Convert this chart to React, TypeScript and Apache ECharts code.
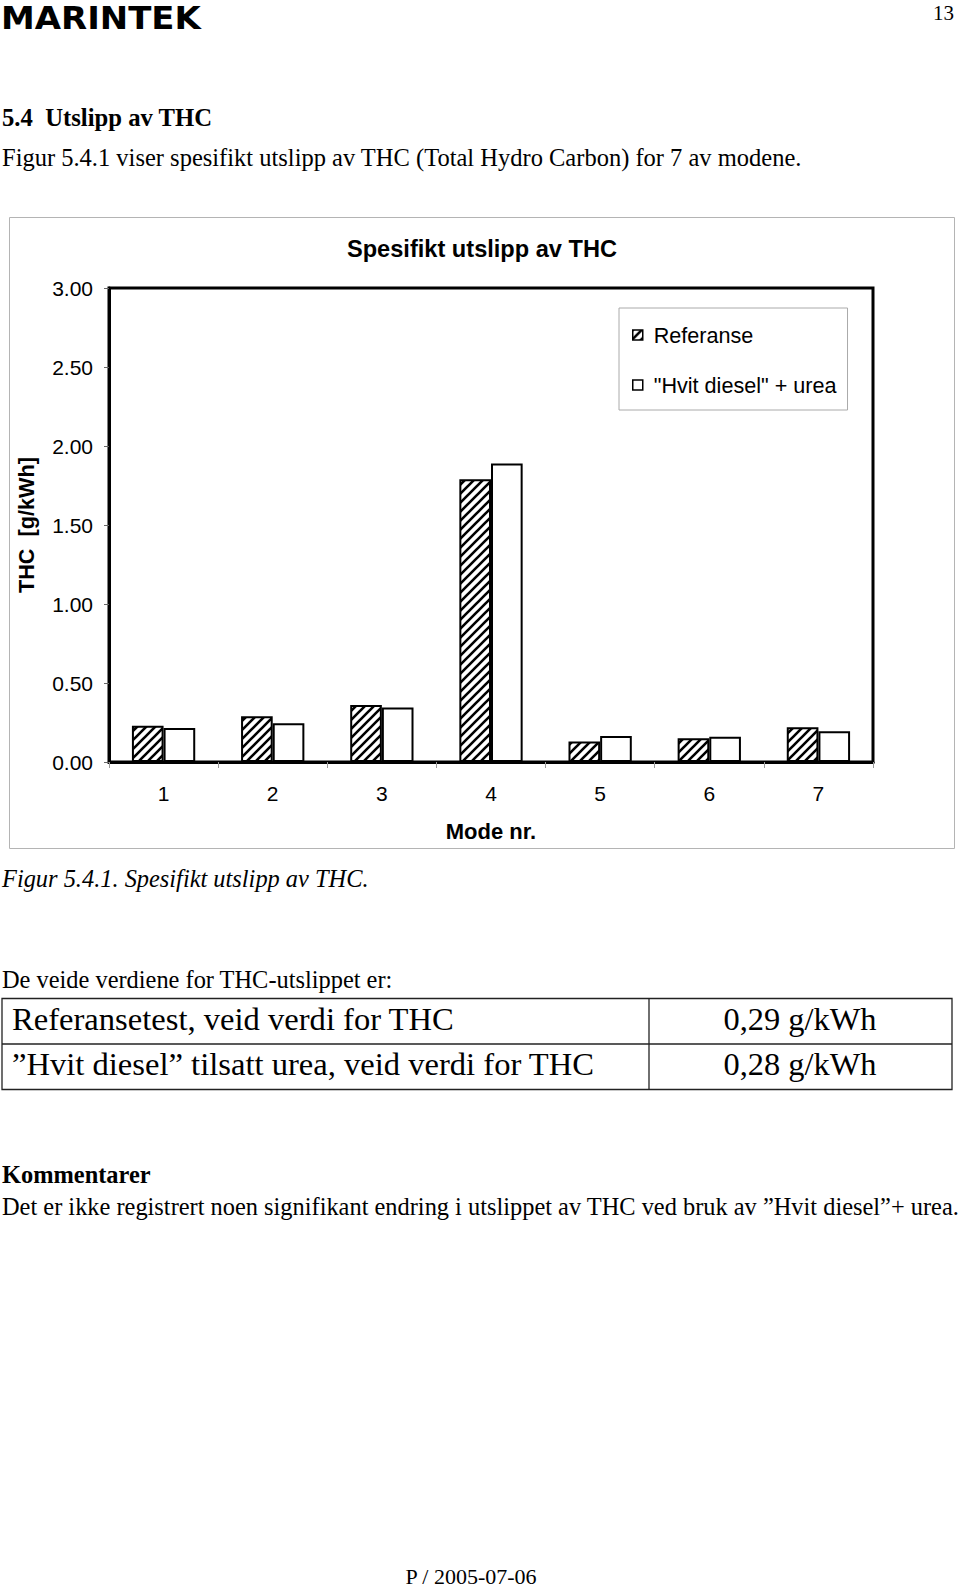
import React, { useEffect, useRef } from "react";
import * as echarts from "echarts";

// ---- Data ----
const modes = ["1", "2", "3", "4", "5", "6", "7"];
const referanse = [0.23, 0.29, 0.36, 1.79, 0.13, 0.15, 0.22];
const hvitDieselUrea = [0.215, 0.245, 0.345, 1.89, 0.165, 0.16, 0.195];
const seriesNames = ["Referanse", '"Hvit diesel" + urea'];
const yMin = 0;
const yMax = 3;
const yInterval = 0.5;

const chartTitle = "Spesifikt utslipp av THC";
const yAxisName = "THC  [g/kWh]";
const xAxisName = "Mode nr.";

const tableLabels = [
  "Referansetest, veid verdi for THC",
  "\u201DHvit diesel\u201D tilsatt urea, veid verdi for THC",
];
const tableValues = ["0,29 g/kWh", "0,28 g/kWh"];

const SERIF = "'Liberation Serif', 'Times New Roman', serif";
const SANS = "'Liberation Sans', Arial, sans-serif";

function makeHatch() {
  const s = 9;
  const c = document.createElement("canvas");
  c.width = s;
  c.height = s;
  const ctx = c.getContext("2d")!;
  ctx.fillStyle = "#fff";
  ctx.fillRect(0, 0, s, s);
  ctx.strokeStyle = "#000";
  ctx.lineWidth = 2.6;
  ctx.beginPath();
  ctx.moveTo(-2, s + 2);
  ctx.lineTo(s + 2, -2);
  ctx.moveTo(-3, 3);
  ctx.lineTo(3, -3);
  ctx.moveTo(s - 3, s + 3);
  ctx.lineTo(s + 3, s - 3);
  ctx.stroke();
  return { image: c, repeat: "repeat", imageWidth: s, imageHeight: s } as any;
}

function txt(
  text: string,
  x: number,
  y: number,
  font: { size: number; family: string; weight?: string; style?: string; lineHeight?: number },
  align: string = "left",
  extra: any = {}
) {
  const style: any = {
    text,
    x,
    y,
    fontSize: font.size,
    fontFamily: font.family,
    fontWeight: font.weight || "normal",
    fontStyle: font.style || "normal",
    fill: "#000",
    align,
    textAlign: align,
    verticalAlign: "middle",
    textVerticalAlign: "middle",
  };
  if (font.lineHeight) style.lineHeight = font.lineHeight;
  return { type: "text", ...extra, style };
}

export default function App() {
  const ref = useRef<HTMLDivElement>(null);

  useEffect(() => {
    if (!ref.current) return;
    const chart = echarts.init(ref.current, undefined, { renderer: "svg" });
    const hatch = makeHatch();

    const graphics: any[] = [
      // logo + page number
      txt(
        "MARINTEK",
        1,
        18,
        { size: 32.5, family: "'DejaVu Sans', sans-serif", weight: "bold", lineHeight: 26 },
        "left",
        { scaleX: 1.045, originX: 1, originY: 18 }
      ),
      txt("13", 954, 13, { size: 21, family: SERIF }, "right"),
      // headings
      txt("5.4  Utslipp av THC", 2, 117, { size: 24.7, family: SERIF, weight: "bold" }),
      txt(
        "Figur 5.4.1 viser spesifikt utslipp av THC (Total Hydro Carbon) for 7 av modene.",
        2,
        157,
        { size: 24.5, family: SERIF }
      ),
      // chart outer frame
      {
        type: "rect",
        z: -10,
        shape: { x: 9.5, y: 217.5, width: 945, height: 631 },
        style: { fill: "#fff", stroke: "#b4b4b4", lineWidth: 1 },
      },
      txt("Figur 5.4.1. Spesifikt utslipp av THC.", 2, 878, {
        size: 24.4,
        family: SERIF,
        style: "italic",
      }),
      txt("De veide verdiene for THC-utslippet er:", 2, 979, { size: 24.4, family: SERIF }),
      // table
      {
        type: "rect",
        shape: { x: 2, y: 998.5, width: 950, height: 91 },
        style: { fill: "none", stroke: "#222", lineWidth: 1.3 },
      },
      {
        type: "line",
        shape: { x1: 2, y1: 1044, x2: 952, y2: 1044 },
        style: { stroke: "#222", lineWidth: 1.3 },
      },
      {
        type: "line",
        shape: { x1: 649, y1: 998.5, x2: 649, y2: 1089.5 },
        style: { stroke: "#222", lineWidth: 1.3 },
      },
      ...tableLabels.map((t, i) => txt(t, 12, 1018.5 + i * 45.5, { size: 32.6, family: SERIF })),
      ...tableValues.map((t, i) =>
        txt(t, 800, 1018.5 + i * 45.5, { size: 32.4, family: SERIF }, "center")
      ),
      txt("Kommentarer", 2, 1174, { size: 24.4, family: SERIF, weight: "bold" }),
      txt(
        "Det er ikke registrert noen signifikant endring i utslippet av THC ved bruk av \u201DHvit diesel\u201D+ urea.",
        2,
        1206,
        { size: 24.4, family: SERIF }
      ),
      txt("P / 2005-07-06", 471, 1576, { size: 22, family: SERIF }, "center"),
    ];

    chart.setOption({
      animation: false,
      backgroundColor: "#fff",
      title: {
        text: chartTitle,
        left: 482,
        top: 237,
        padding: 0,
        textAlign: "center",
        textStyle: { fontFamily: SANS, fontSize: 23.6, fontWeight: "bold", color: "#000" },
      },
      legend: {
        orient: "vertical",
        left: 619,
        top: 308,
        padding: [16, 11, 14, 13],
        itemGap: 28,
        itemWidth: 10,
        itemHeight: 10,
        icon: "rect",
        backgroundColor: "#fff",
        borderColor: "#aaa",
        borderWidth: 1,
        data: seriesNames,
        textStyle: { fontFamily: SANS, fontSize: 21.6, color: "#000", padding: [0, 0, 0, 6] },
        itemStyle: { borderColor: "#000", borderWidth: 1.5 },
      },
      grid: {
        left: 109,
        top: 288,
        width: 764,
        height: 474,
        show: true,
        borderColor: "#000",
        borderWidth: 3,
        backgroundColor: "transparent",
        containLabel: false,
      },
      xAxis: {
        type: "category",
        data: modes,
        name: xAxisName,
        nameLocation: "middle",
        nameGap: 58,
        nameTextStyle: { fontFamily: SANS, fontSize: 22, fontWeight: "bold", color: "#000" },
        axisLine: { lineStyle: { color: "#000", width: 3 } },
        axisTick: { show: true, length: 6, lineStyle: { color: "#999", width: 1 } },
        axisLabel: { fontFamily: SANS, fontSize: 21, color: "#000", margin: 21 },
        splitLine: { show: false },
      },
      yAxis: {
        type: "value",
        min: yMin,
        max: yMax,
        interval: yInterval,
        name: yAxisName,
        nameLocation: "middle",
        nameGap: 72,
        nameTextStyle: { fontFamily: SANS, fontSize: 21.7, fontWeight: "bold", color: "#000" },
        axisLine: { show: true, lineStyle: { color: "#000", width: 3 } },
        axisTick: { show: true, length: 5, lineStyle: { color: "#666", width: 1 } },
        axisLabel: {
          fontFamily: SANS,
          fontSize: 21,
          color: "#000",
          margin: 16,
          formatter: (v: number) => v.toFixed(2),
        },
        splitLine: { show: false },
      },
      series: [
        {
          name: seriesNames[0],
          type: "bar",
          data: referanse,
          barGap: "0%",
          barCategoryGap: "42%",
          itemStyle: { color: hatch, borderColor: "#000", borderWidth: 2 },
        },
        {
          name: seriesNames[1],
          type: "bar",
          data: hvitDieselUrea,
          barGap: "0%",
          barCategoryGap: "42%",
          itemStyle: { color: "#fff", borderColor: "#000", borderWidth: 2 },
        },
      ],
      graphic: graphics,
    });

    return () => {
      chart.dispose();
    };
  }, []);

  return (
    <div
      ref={ref}
      style={{ position: "absolute", left: 0, top: 0, width: 960, height: 1588, background: "#fff" }}
    />
  );
}
